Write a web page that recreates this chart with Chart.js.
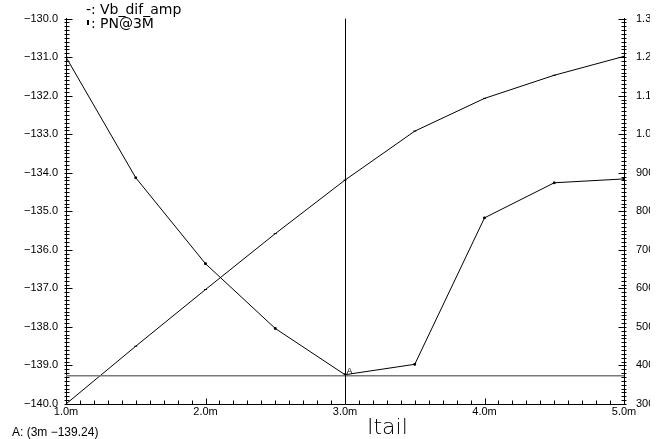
<!DOCTYPE html>
<html>
<head>
<meta charset="utf-8">
<script src="https://cdn.jsdelivr.net/npm/chart.js@4/dist/chart.umd.min.js"></script>
<style>
  html, body { margin: 0; padding: 0; background: #fff; }
  #wrap { width: 671px; height: 439px; }
</style>
</head>
<body>
<div id="wrap"><canvas id="c" width="671" height="439"></canvas></div>
<script>
// Sweep of tail current (mA) with two measured outputs
const itail     = [1.0, 1.5, 2.0, 2.5, 3.0, 3.5, 4.0, 4.5, 5.0];
const vbDifAmp  = [300, 450, 597, 742, 881, 1008, 1093, 1153, 1202];
const pn3M      = [-131.0, -134.13, -136.36, -138.04, -139.24, -138.97, -135.17, -134.26, -134.16];

// Axis tick labels
const xTicks     = [1, 2, 3, 4, 5];
const leftTicks  = [-140, -139, -138, -137, -136, -135, -134, -133, -132, -131, -130];
const rightTicks = [300, 400, 500, 600, 700, 800, 900, 1000, 1100, 1200, 1300];

// Cursor A
const cursorX = 3;
const cursorY = -139.24;

const labelFont = { family: "'Liberation Sans', Arial, sans-serif", size: 11 };

const toPoints = (xs, ys) => xs.map((v, i) => ({ x: v, y: ys[i] }));

// Right-hand labels are cut off by the plot window edge
const clipRight = {
  id: 'clipRight',
  beforeDraw(chart) {
    const ctx = chart.ctx;
    ctx.save();
    ctx.beginPath();
    ctx.rect(0, 0, 650, chart.height);
    ctx.clip();
  },
  afterDraw(chart) {
    chart.ctx.restore();
  }
};

// Dense minor ticks on all three axes
function drawAxisTicks(chart) {
  const ctx = chart.ctx;
  const a = chart.chartArea;
  const x = chart.scales.x, y = chart.scales.y, y1 = chart.scales.y1;
  ctx.save();
  ctx.strokeStyle = '#000';
  ctx.lineWidth = 1;
  ctx.beginPath();
  const L = Math.round(a.left) + 0.5;
  const R = Math.round(a.right) + 0.5;
  const B = Math.round(a.bottom) + 0.5;
  for (let i = 0; i <= 100; i++) {
    const py = Math.round(y.getPixelForValue(-140 + i * 0.1)) + 0.5;
    const major = i % 10 === 0;
    ctx.moveTo(L - 2, py);
    ctx.lineTo(L + (major ? 6 : 3), py);
  }
  for (let i = 0; i <= 100; i++) {
    const py = Math.round(y1.getPixelForValue(300 + i * 10)) + 0.5;
    const major = i % 10 === 0;
    ctx.moveTo(R + 2, py);
    ctx.lineTo(R - (major ? 6 : 3), py);
  }
  for (let i = 0; i <= 40; i++) {
    const px = Math.round(x.getPixelForValue(1 + i * 0.1)) + 0.5;
    const major = i % 10 === 0;
    ctx.moveTo(px, B);
    ctx.lineTo(px, B - (major ? 6 : 4));
  }
  ctx.stroke();
  ctx.restore();
}

// Cursor cross-hair, its tag and readout, legend and x title
function drawOverlay(chart) {
  const ctx = chart.ctx;
  const a = chart.chartArea;
  const x = chart.scales.x, y = chart.scales.y;
  const cx = Math.round(x.getPixelForValue(cursorX)) + 0.5;
  const cy = y.getPixelForValue(cursorY) + 1;
  ctx.save();

  ctx.strokeStyle = '#7a7a7a';
  ctx.lineWidth = 1.5;
  ctx.beginPath();
  ctx.moveTo(a.left, cy);
  ctx.lineTo(a.right, cy);
  ctx.stroke();

  ctx.strokeStyle = '#000';
  ctx.lineWidth = 1;
  ctx.beginPath();
  ctx.moveTo(cx, a.top);
  ctx.lineTo(cx, a.bottom);
  ctx.stroke();

  ctx.fillStyle = '#000';
  ctx.font = "9px 'Liberation Sans', Arial, sans-serif";
  ctx.textBaseline = 'alphabetic';
  ctx.textAlign = 'left';
  ctx.fillText('A', cx + 1, cy - 2);

  ctx.font = "12px 'Liberation Sans', Arial, sans-serif";
  ctx.fillText('A: (' + cursorX + 'm \u2212' + Math.abs(cursorY).toFixed(2) + ')', 12, 436);

  // legend
  const ds = chart.data.datasets;
  ctx.font = "14px 'DejaVu Sans', sans-serif";
  ctx.fillText('-:', 86, 14);
  ctx.fillText(ds[0].label, 100, 14);
  ctx.fillRect(87, 20, 2, 5);
  ctx.fillText(':', 91, 28);
  ctx.fillText(ds[1].label, 100, 28);

  // x axis title
  ctx.font = "200 22px 'DejaVu Sans', sans-serif";
  ctx.fillText('Itail', 367, 434);

  ctx.restore();
}

const decorations = {
  id: 'decorations',
  afterDraw(chart) {
    drawAxisTicks(chart);
    drawOverlay(chart);
  }
};

new Chart(document.getElementById('c'), {
  type: 'scatter',
  data: {
    datasets: [
      {
        label: 'Vb_dif_amp',
        data: toPoints(itail, vbDifAmp),
        yAxisID: 'y1',
        showLine: true,
        borderColor: '#000',
        backgroundColor: '#000',
        borderWidth: 1,
        pointStyle: 'line',
        pointRadius: 1.5,
        pointBorderWidth: 1
      },
      {
        label: 'PN@3M',
        data: toPoints(itail, pn3M),
        yAxisID: 'y',
        showLine: true,
        borderColor: '#000',
        backgroundColor: '#000',
        borderWidth: 1,
        pointStyle: 'rect',
        pointRadius: 1.2,
        pointBorderWidth: 1
      }
    ]
  },
  options: {
    responsive: false,
    animation: false,
    devicePixelRatio: 1,
    layout: { padding: { top: 17, left: 0, right: 0, bottom: 0 } },
    plugins: { legend: { display: false }, tooltip: { enabled: false } },
    scales: {
      x: {
        type: 'linear',
        min: 1, max: 5,
        afterBuildTicks: s => { s.ticks = xTicks.map(v => ({ value: v })); },
        afterFit: s => { s.height = 35; },
        ticks: {
          callback: v => v.toFixed(1) + 'm',
          font: labelFont, color: '#000', padding: 1,
          maxRotation: 0, autoSkip: false
        },
        grid: { display: false, drawTicks: false },
        border: { display: true, color: '#000', width: 1 }
      },
      y: {
        type: 'linear',
        position: 'left',
        min: -140, max: -130,
        afterBuildTicks: s => { s.ticks = leftTicks.map(v => ({ value: v })); },
        afterFit: s => { s.width = 66; },
        ticks: {
          callback: v => '\u2212' + Math.abs(v).toFixed(1),
          font: labelFont, color: '#000', padding: 8, autoSkip: false
        },
        grid: { display: false, drawTicks: false },
        border: { display: true, color: '#000', width: 1 }
      },
      y1: {
        type: 'linear',
        position: 'right',
        min: 300, max: 1300,
        afterBuildTicks: s => { s.ticks = rightTicks.map(v => ({ value: v })); },
        afterFit: s => { s.width = 47; },
        ticks: {
          callback: v => v >= 1000 ? (v / 1000).toFixed(2) : String(v),
          font: labelFont, color: '#000', padding: 12, autoSkip: false
        },
        grid: { display: false, drawTicks: false },
        border: { display: true, color: '#000', width: 1 }
      }
    }
  },
  plugins: [clipRight, decorations]
});
</script>
</body>
</html>
